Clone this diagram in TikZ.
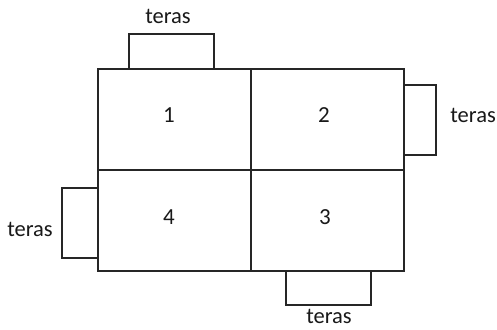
\documentclass[tikz,border=0pt]{standalone}
\usepackage{fontspec}
\setmainfont{Carlito}
\begin{document}
\begin{tikzpicture}[x=1pt,y=-1pt,
  wall/.style={draw=black!85,line width=1.4pt},
  lbl/.style={font=\fontsize{22.5}{26}\selectfont,text=black!90,inner sep=0pt},
  num/.style={font=\fontsize{23}{26}\selectfont,text=black!90,inner sep=0pt}]
\useasboundingbox[fill=white] (0,0) rectangle (497,329);
% main house
\draw[wall] (98,69) rectangle (404,271);
\draw[wall] (251,69) -- (251,271);
\draw[wall] (98,170) -- (404,170);
% terraces
\draw[wall] (129,69) -- (129,34) -- (214,34) -- (214,69);
\draw[wall] (404,85) -- (436,85) -- (436,155) -- (404,155);
\draw[wall] (98,188) -- (62,188) -- (62,258) -- (98,258);
\draw[wall] (286,271) -- (286,305) -- (371,305) -- (371,271);
% room numbers
\node[num] (r1) at (169,115) {1};
\node[num] (r2) at (324,115) {2};
\node[num] (r4) at (169,217) {4};
\node[num] (r3) at (325,217) {3};
% labels
\node[lbl] (t1) at (168,16) {teras};
\node[lbl,anchor=east] (t2) at (496,115) {teras};
\node[lbl] (t4) at (30,229) {teras};
\node[lbl] (t3) at (329,316.5) {teras};
\end{tikzpicture}
\end{document}
